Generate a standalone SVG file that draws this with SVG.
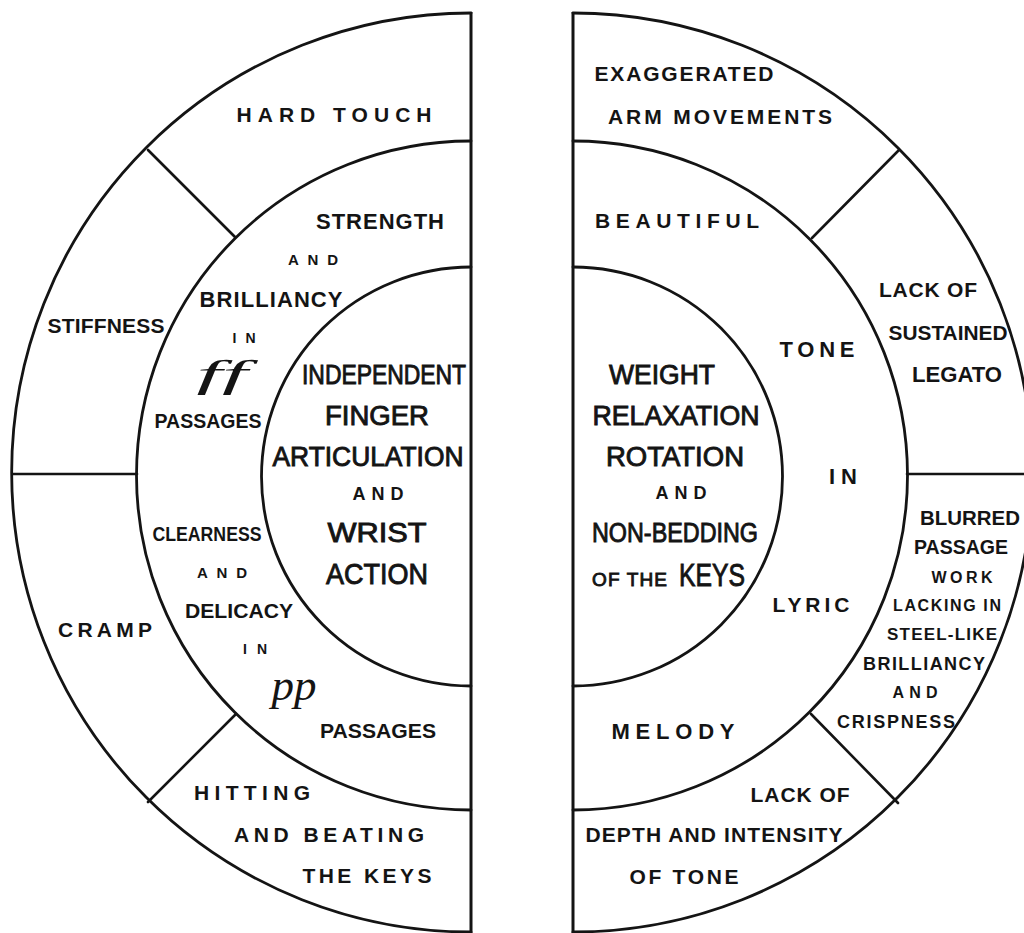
<svg xmlns="http://www.w3.org/2000/svg" width="1024" height="933" viewBox="0 0 1024 933">
  <style>
    .ring { fill: none; stroke: #141414; stroke-width: 2.8; stroke-linecap: round; }
    .axis { fill: none; stroke: #141414; stroke-width: 3; }
    .div  { fill: none; stroke: #141414; stroke-width: 2.6; stroke-linecap: round; }
    .b { font-family: "Liberation Sans", Arial, sans-serif; font-weight: bold; fill: #141414; text-anchor: middle; }
    .r { font-family: "Liberation Sans", Arial, sans-serif; font-weight: normal; fill: #141414; stroke: #141414; stroke-width: 0.9; text-anchor: middle; }
    .dyn { font-family: "Liberation Serif", "Times New Roman", serif; font-style: italic; fill: #141414; text-anchor: middle; }
  </style>
  <rect width="1024" height="933" fill="#ffffff"/>

  <!-- two half-discs: outer, middle and inner rings -->
  <g id="rings">
    <line class="axis" x1="471" y1="12" x2="471" y2="933"/>
    <path class="ring" d="M471 13 A459.5 459.5 0 0 0 471 932"/>
    <path class="ring" d="M471 141 A334.5 334.5 0 0 0 471 810"/>
    <path class="ring" d="M471 267 A209.5 209.5 0 0 0 471 686"/>
    <line class="axis" x1="573" y1="12" x2="573" y2="933"/>
    <path class="ring" d="M573 13 A459.5 459.5 0 0 1 573 932"/>
    <path class="ring" d="M573 141 A334.5 334.5 0 0 1 573 810"/>
    <path class="ring" d="M573 267 A209.5 209.5 0 0 1 573 686"/>
  </g>

  <!-- radial and horizontal dividers of the outer ring -->
  <g id="dividers">
    <line class="div" x1="148" y1="150" x2="235" y2="237"/>
    <line class="div" x1="13" y1="474" x2="137" y2="474"/>
    <line class="div" x1="148" y1="802" x2="236" y2="714"/>
    <line class="div" x1="899" y1="150" x2="812" y2="238"/>
    <line class="div" x1="907" y1="474" x2="1024" y2="474"/>
    <line class="div" x1="811" y1="714" x2="898" y2="803"/>
  </g>

  <!-- left half -->
  <g id="hard-touch">
    <text class="b" x="334" y="122" font-size="21" textLength="195" lengthAdjust="spacing">HARD TOUCH</text>
  </g>
  <g id="stiffness">
    <text class="b" x="106" y="333" font-size="21" textLength="117" lengthAdjust="spacing">STIFFNESS</text>
  </g>
  <g id="cramp">
    <text class="b" x="105" y="637" font-size="21" textLength="94" lengthAdjust="spacing">CRAMP</text>
  </g>
  <g id="hitting">
    <text class="b" x="252" y="800" font-size="21" textLength="116" lengthAdjust="spacing">HITTING</text>
    <text class="b" x="329" y="842" font-size="21" textLength="190" lengthAdjust="spacing">AND BEATING</text>
    <text class="b" x="367" y="883" font-size="21" textLength="129" lengthAdjust="spacing">THE KEYS</text>
  </g>
  <g id="strength">
    <text class="b" x="380" y="229" font-size="22" textLength="128" lengthAdjust="spacing">STRENGTH</text>
    <text class="b" x="313" y="265" font-size="15" textLength="50" lengthAdjust="spacing">AND</text>
    <text class="b" x="271" y="307" font-size="22" textLength="143" lengthAdjust="spacing">BRILLIANCY</text>
    <text class="b" x="244" y="343" font-size="14" textLength="23" lengthAdjust="spacing">IN</text>
    <text class="dyn" x="222" y="387" font-size="38" textLength="51" lengthAdjust="spacingAndGlyphs">ff</text>
    <text class="b" x="208" y="428" font-size="21" textLength="107" lengthAdjust="spacingAndGlyphs">PASSAGES</text>
  </g>
  <g id="clearness">
    <text class="b" x="207" y="541" font-size="21" textLength="109" lengthAdjust="spacingAndGlyphs">CLEARNESS</text>
    <text class="b" x="222" y="578" font-size="15" textLength="50" lengthAdjust="spacing">AND</text>
    <text class="b" x="239" y="618" font-size="21" textLength="108" lengthAdjust="spacingAndGlyphs">DELICACY</text>
    <text class="b" x="255" y="654" font-size="14" textLength="24" lengthAdjust="spacing">IN</text>
    <text class="dyn" x="294" y="700" font-size="44" textLength="45" lengthAdjust="spacingAndGlyphs">pp</text>
    <text class="b" x="378" y="738" font-size="21" textLength="116" lengthAdjust="spacingAndGlyphs">PASSAGES</text>
  </g>
  <g id="finger-action">
    <text class="r" x="384" y="384" font-size="27" textLength="164" lengthAdjust="spacingAndGlyphs">INDEPENDENT</text>
    <text class="r" x="377" y="425" font-size="27" textLength="104" lengthAdjust="spacingAndGlyphs">FINGER</text>
    <text class="r" x="368" y="466" font-size="27" textLength="191" lengthAdjust="spacingAndGlyphs">ARTICULATION</text>
    <text class="b" x="378" y="500" font-size="18" textLength="51" lengthAdjust="spacing">AND</text>
    <text class="r" x="377" y="542" font-size="28" textLength="99" lengthAdjust="spacingAndGlyphs">WRIST</text>
    <text class="r" x="377" y="584" font-size="29" textLength="102" lengthAdjust="spacingAndGlyphs">ACTION</text>
  </g>

  <!-- right half -->
  <g id="arm-movements">
    <text class="b" x="684" y="81" font-size="21" textLength="179" lengthAdjust="spacing">EXAGGERATED</text>
    <text class="b" x="720" y="124" font-size="21" textLength="224" lengthAdjust="spacing">ARM MOVEMENTS</text>
  </g>
  <g id="legato">
    <text class="b" x="928" y="297" font-size="21" textLength="98" lengthAdjust="spacing">LACK OF</text>
    <text class="b" x="948" y="340" font-size="21" textLength="119" lengthAdjust="spacingAndGlyphs">SUSTAINED</text>
    <text class="b" x="957" y="382" font-size="22" textLength="90" lengthAdjust="spacingAndGlyphs">LEGATO</text>
  </g>
  <g id="blurred">
    <text class="b" x="970" y="525" font-size="21" textLength="100" lengthAdjust="spacingAndGlyphs">BLURRED</text>
    <text class="b" x="961" y="554" font-size="21" textLength="94" lengthAdjust="spacingAndGlyphs">PASSAGE</text>
    <text class="b" x="962" y="583" font-size="16" textLength="61" lengthAdjust="spacing">WORK</text>
    <text class="b" x="947" y="611" font-size="16" textLength="108" lengthAdjust="spacing">LACKING IN</text>
    <text class="b" x="942" y="640" font-size="17" textLength="110" lengthAdjust="spacing">STEEL-LIKE</text>
    <text class="b" x="924" y="670" font-size="18" textLength="122" lengthAdjust="spacing">BRILLIANCY</text>
    <text class="b" x="915" y="698" font-size="16" textLength="45" lengthAdjust="spacing">AND</text>
    <text class="b" x="896" y="728" font-size="18" textLength="118" lengthAdjust="spacing">CRISPNESS</text>
  </g>
  <g id="depth">
    <text class="b" x="800" y="802" font-size="21" textLength="99" lengthAdjust="spacing">LACK OF</text>
    <text class="b" x="714" y="842" font-size="21" textLength="257" lengthAdjust="spacing">DEPTH AND INTENSITY</text>
    <text class="b" x="684" y="884" font-size="21" textLength="109" lengthAdjust="spacing">OF TONE</text>
  </g>
  <g id="beautiful-tone">
    <text class="b" x="677" y="228" font-size="21" textLength="164" lengthAdjust="spacing">BEAUTIFUL</text>
    <text class="b" x="817" y="357" font-size="22" textLength="75" lengthAdjust="spacing">TONE</text>
    <text class="b" x="843" y="484" font-size="22" textLength="28" lengthAdjust="spacing">IN</text>
    <text class="b" x="811" y="612" font-size="21" textLength="77" lengthAdjust="spacing">LYRIC</text>
    <text class="b" x="673" y="739" font-size="22" textLength="123" lengthAdjust="spacing">MELODY</text>
  </g>
  <g id="weight-relaxation">
    <text class="r" x="662" y="384" font-size="27" textLength="106" lengthAdjust="spacingAndGlyphs">WEIGHT</text>
    <text class="r" x="676" y="425" font-size="27" textLength="167" lengthAdjust="spacingAndGlyphs">RELAXATION</text>
    <text class="r" x="675" y="466" font-size="27" textLength="138" lengthAdjust="spacingAndGlyphs">ROTATION</text>
    <text class="b" x="681" y="499" font-size="18" textLength="51" lengthAdjust="spacing">AND</text>
    <text class="r" x="675" y="542" font-size="27" textLength="166" lengthAdjust="spacingAndGlyphs">NON-BEDDING</text>
    <text class="r" x="629.5" y="586" font-size="19" textLength="75" lengthAdjust="spacing">OF THE</text>
    <text class="r" x="712" y="586" font-size="31" textLength="66" lengthAdjust="spacingAndGlyphs">KEYS</text>
  </g>
</svg>
